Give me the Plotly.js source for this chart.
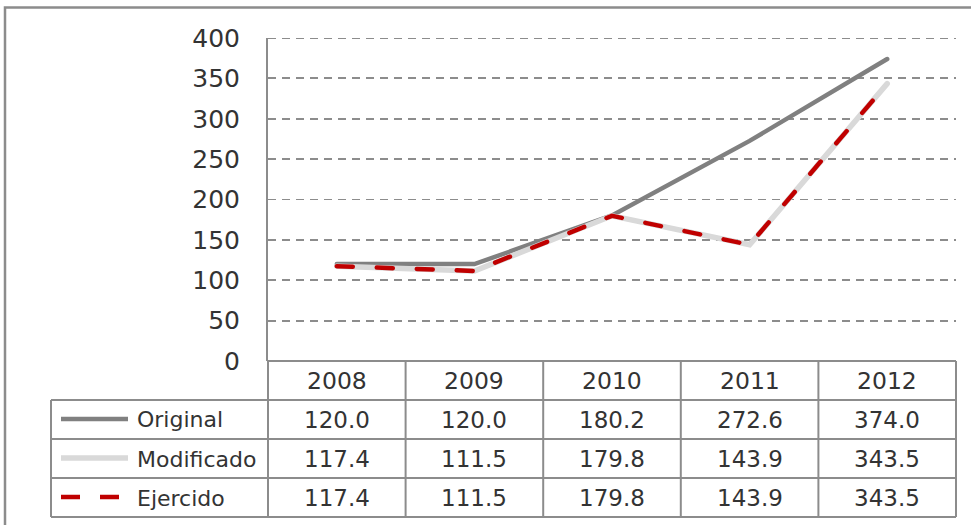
<!DOCTYPE html>
<html>
<head>
<meta charset="utf-8">
<script src="https://cdn.plot.ly/plotly-3.0.1.min.js"></script>
<style>
html,body{margin:0;padding:0;background:#fff;}
#chart{width:971px;height:525px;}
.scatterlayer .js-line{stroke-linecap:round;}
</style>
</head>
<body>
<div id="chart"></div>
<script>
const years = ['2008', '2009', '2010', '2011', '2012'];
const seriesNames = ['Original', 'Modificado', 'Ejercido'];
const original = [120.0, 120.0, 180.2, 272.6, 374.0];
const modificado = [117.4, 111.5, 179.8, 143.9, 343.5];
const ejercido = [117.4, 111.5, 179.8, 143.9, 343.5];
const yTicks = [0, 50, 100, 150, 200, 250, 300, 350, 400];

const W = 971, H = 525;
const M = {l: 268, r: 15, t: 38, b: 164};
const pw = W - M.l - M.r, ph = H - M.t - M.b;
const px = v => (v - M.l) / pw;          // pixel x -> paper
const py = v => (H - M.b - v) / ph;      // pixel y -> paper

const FONT = 'DejaVu Sans';
const TXT = '#333333';
const GRID = '#8c8c8c';

const styles = [
  {color: '#808080', width: 4.5, dash: 'solid'},
  {color: '#d9d9d9', width: 5.5, dash: 'solid'},
  {color: '#c00000', width: 4.5, dash: '16px,24px'}
];
const data = [original, modificado, ejercido];

const traces = data.map((vals, i) => ({
  type: 'scatter', mode: 'lines', name: seriesNames[i],
  x: years, y: vals,
  line: {color: styles[i].color, width: styles[i].width, dash: styles[i].dash},
  hoverinfo: 'skip', showlegend: false
}));

// table geometry (pixels)
const rowLines = [400, 439, 478, 517];
const rowCenters = [420, 459, 498];
const headerCenter = 381;
const tableLeft = 51;
const n = years.length;

const shapes = [];
const lineSt = {color: GRID, width: 2};
// top gridline at the axis maximum
shapes.push({type: 'line', xref: 'paper', yref: 'y', x0: 0, x1: 1, y0: yTicks[yTicks.length - 1], y1: yTicks[yTicks.length - 1],
  line: {color: GRID, width: 1.8, dash: '8px,6px'}, layer: 'below'});
// top line of header (x axis baseline)
shapes.push({type: 'line', xref: 'paper', yref: 'paper', x0: 0, x1: 1, y0: 0, y1: 0, line: lineSt});
rowLines.forEach(r => shapes.push({type: 'line', xref: 'paper', yref: 'paper', x0: px(tableLeft), x1: 1, y0: py(r), y1: py(r), line: lineSt}));
// vertical lines
shapes.push({type: 'line', xref: 'paper', yref: 'paper', x0: px(tableLeft), x1: px(tableLeft), y0: py(400), y1: py(517), line: lineSt});
for (let i = 0; i <= n; i++) {
  shapes.push({type: 'line', xref: 'paper', yref: 'paper', x0: i / n, x1: i / n, y0: 0, y1: py(517), line: lineSt});
}
// legend keys
seriesNames.forEach((s, i) => {
  shapes.push({type: 'line', xref: 'paper', yref: 'paper', x0: px(61), x1: px(128),
    y0: py(rowCenters[i] - 1), y1: py(rowCenters[i] - 1),
    line: {color: styles[i].color, width: styles[i].width, dash: styles[i].dash === 'solid' ? 'solid' : '19px,20px'}});
});
// outer border
shapes.push({type: 'rect', xref: 'paper', yref: 'paper', x0: px(5), x1: px(1000), y0: py(560), y1: py(7.5),
  line: {color: GRID, width: 2.5}, layer: 'below'});

const annotations = [];
years.forEach((yr, i) => {
  annotations.push({xref: 'x', yref: 'paper', x: i, y: py(headerCenter), text: yr, showarrow: false,
    xanchor: 'center', yanchor: 'middle', font: {family: FONT, size: 23.5, color: TXT}});
  data.forEach((vals, j) => {
    annotations.push({xref: 'x', yref: 'paper', x: i, y: py(rowCenters[j]), text: vals[i].toFixed(1), showarrow: false,
      xanchor: 'center', yanchor: 'middle', font: {family: FONT, size: 23, color: TXT}});
  });
});
seriesNames.forEach((s, j) => {
  annotations.push({xref: 'paper', yref: 'paper', x: px(135), y: py(rowCenters[j]), text: s, showarrow: false,
    xanchor: 'left', yanchor: 'middle', font: {family: FONT, size: 22, color: TXT}});
});

const layout = {
  width: W, height: H,
  margin: M,
  paper_bgcolor: '#ffffff', plot_bgcolor: '#ffffff',
  font: {family: FONT, size: 22, color: TXT},
  xaxis: {type: 'category', range: [-0.5, n - 0.5], showticklabels: false, showgrid: false,
    zeroline: false, showline: false, ticks: '', fixedrange: true},
  yaxis: {range: [0, 400], tickvals: yTicks, ticktext: yTicks.map(String), showgrid: true,
    gridcolor: GRID, gridwidth: 1.8, griddash: '8px,6px', zeroline: false,
    showline: true, linecolor: GRID, linewidth: 2, ticks: '', ticklabelstandoff: 21,
    tickfont: {family: FONT, size: 25, color: TXT}, fixedrange: true},
  shapes: shapes,
  annotations: annotations,
  showlegend: false
};

Plotly.newPlot('chart', traces, layout, {displayModeBar: false, staticPlot: true});
</script>
</body>
</html>
